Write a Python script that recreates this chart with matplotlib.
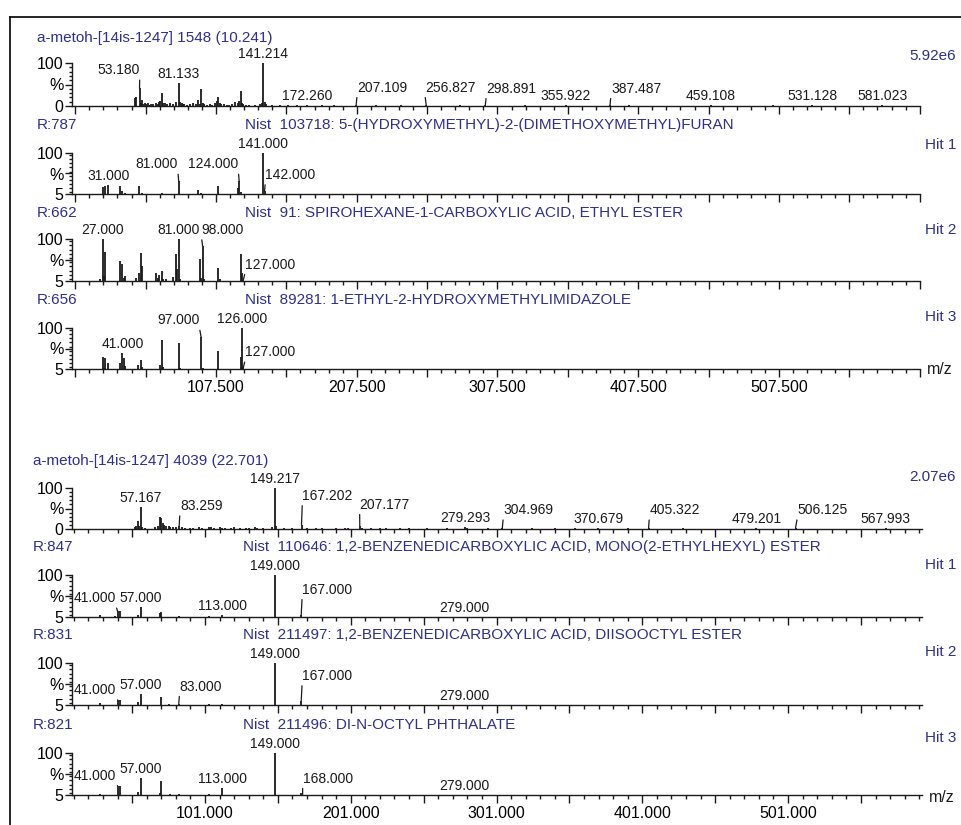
import matplotlib
matplotlib.use('Agg')
import matplotlib.pyplot as plt
from matplotlib.lines import Line2D
from matplotlib.ticker import FixedLocator, MultipleLocator

plt.rcParams['font.family'] = ['Liberation Sans', 'DejaVu Sans']

# ---- scan 1548 (10.241 min) and its library hits ----
scan1_title = 'a-metoh-[14is-1247] 1548 (10.241)'
scan1_tic = '5.92e6'
scan1_mz = [50, 51, 53.180, 54, 55, 56, 57, 58, 59, 60, 61, 63, 65, 66, 67, 68, 69, 70,
            71, 73, 75, 77, 79, 81.133, 82, 83, 84, 85, 87, 89, 91, 93, 95, 96, 97, 98,
            99, 101, 103, 105, 107, 108, 109, 110, 111, 113, 115, 117, 119, 121, 123,
            124, 125, 126, 127, 129, 131, 135, 139, 140, 141.214, 142, 143, 147, 153,
            159, 165, 172.260, 183, 191, 207.109, 221, 239, 256.827, 281, 298.891, 327,
            355.922, 387.487, 401, 429, 459.108, 503, 531.128, 581.023]
scan1_int = [18, 22, 41, 8, 14, 5, 8, 4, 6, 3, 5, 4, 6, 4, 9, 12, 30, 6,
             8, 5, 7, 4, 9, 53, 10, 6, 4, 5, 3, 4, 6, 4, 15, 5, 40, 8,
             4, 3, 4, 3, 6, 12, 22, 8, 5, 4, 3, 3, 5, 10, 8,
             12, 34, 6, 4, 3, 2, 3, 4, 8, 100, 9, 4, 2, 2,
             2, 2, 3, 2, 1.5, 3, 1.5, 1.5, 3, 1.5, 3, 1.5,
             2, 3, 1.5, 1, 2, 1.5, 2, 2]
scan1_labels = [53.180, 81.133, 141.214, 172.260, 207.109, 256.827, 298.891,
                355.922, 387.487, 459.108, 531.128, 581.023]

hit1a_head = ('R:787', 'Nist  103718: 5-(HYDROXYMETHYL)-2-(DIMETHOXYMETHYL)FURAN', 'Hit 1')
hit1a_mz = [27, 29, 31, 39, 41, 43, 53, 55, 69, 81, 95, 97, 109, 123, 124, 125, 141, 142]
hit1a_int = [22, 23, 25, 23, 12, 8, 23, 8, 7, 34, 15, 8, 23, 19, 34, 9, 100, 12]
hit1a_labels = [31, 81, 124, 141, 142]

hit2a_head = ('R:662', 'Nist  91: SPIROHEXANE-1-CARBOXYLIC ACID, ETHYL ESTER', 'Hit 2')
hit2a_mz = [25, 27, 28, 29, 39, 41, 42, 43, 51, 53, 54, 55, 65, 66, 67, 69, 70, 72,
            77, 79, 80, 81, 82, 96, 97, 98, 99, 109, 110, 125, 126, 127]
hit2a_int = [10, 100, 16, 70, 50, 44, 12, 16, 12, 22, 68, 38, 22, 12, 18, 27, 10, 9,
             14, 66, 33, 99, 10, 55, 12, 84, 10, 34, 10, 65, 24, 8]
hit2a_labels = [27, 81, 98, 127]

hit3a_head = ('R:656', 'Nist  89281: 1-ETHYL-2-HYDROXYMETHYLIMIDAZOLE', 'Hit 3')
hit3a_mz = [27, 28, 29, 31, 39, 41, 42, 43, 52, 54, 55, 68, 69, 70, 81, 82, 97, 98,
            109, 110, 125, 126, 127]
hit3a_int = [32, 8, 30, 18, 20, 42, 30, 12, 14, 25, 10, 15, 72, 10, 65, 8, 78, 8,
             46, 6, 32, 100, 9]
hit3a_labels = [41, 97, 126, 127]

# ---- scan 4039 (22.701 min) and its library hits ----
scan2_title = 'a-metoh-[14is-1247] 4039 (22.701)'
scan2_tic = '2.07e6'
scan2_mz = [53, 54, 55, 56, 57.167, 58, 60, 67, 69, 70, 71, 72, 73, 74, 76, 77, 79, 81,
            83.259, 85, 87, 91, 93, 97, 99, 104, 105, 107, 111, 113, 115, 119, 121, 125,
            129, 131, 135, 137, 141, 147, 149.217, 150, 155, 161, 167.202, 171, 177, 181,
            191, 197, 199, 207.177, 209, 215, 221, 225, 235, 241, 253, 267, 279.293, 281,
            295, 304.969, 325, 341, 355, 370.679, 391, 405.322, 429, 479.201, 506.125,
            567.993]
scan2_int = [6, 8, 20, 8, 54, 5, 3, 6, 8, 30, 28, 15, 10, 8, 7, 6, 4, 4,
             7, 4, 3, 3, 3, 4, 3, 5, 4, 3, 4, 3, 3, 3, 4, 3,
             3, 3, 4, 3, 3, 5, 100, 8, 3, 2, 10, 2, 3, 2,
             3, 3, 2, 8, 3, 2, 3, 2, 2, 2, 2, 1.5, 4, 2,
             1.5, 2, 1.5, 1.5, 1.5, 2, 1.5, 2, 1.5, 2, 2,
             2]
scan2_labels = [57.167, 83.259, 149.217, 167.202, 207.177, 279.293, 304.969,
                370.679, 405.322, 479.201, 506.125, 567.993]

hit1b_head = ('R:847', 'Nist  110646: 1,2-BENZENEDICARBOXYLIC ACID, MONO(2-ETHYLHEXYL) ESTER', 'Hit 1')
hit1b_mz = [29, 39, 41, 43, 55, 57, 70, 71, 83, 104, 113, 149, 167, 279]
hit1b_int = [9, 7, 18, 18, 9, 27, 15, 16, 7, 7, 9, 100, 10, 6]
hit1b_labels = [41, 57, 113, 149, 167, 279]

hit2b_head = ('R:831', 'Nist  211497: 1,2-BENZENEDICARBOXYLIC ACID, DIISOOCTYL ESTER', 'Hit 2')
hit2b_mz = [29, 41, 43, 55, 57, 71, 76, 83, 104, 113, 149, 167, 279]
hit2b_int = [10, 16, 16, 12, 30, 24, 7, 8, 7, 7, 100, 14, 6]
hit2b_labels = [41, 57, 83, 149, 167, 279]

hit3b_head = ('R:821', 'Nist  211496: DI-N-OCTYL PHTHALATE', 'Hit 3')
hit3b_mz = [29, 41, 43, 55, 57, 70, 71, 77, 83, 104, 113, 149, 167, 168, 279]
hit3b_int = [8, 26, 26, 12, 44, 10, 36, 7, 8, 7, 20, 100, 10, 6, 6]
hit3b_labels = [41, 57, 113, 149, 168, 279]

W, H = 961, 825
NAVY = '#2f2f8c'
INK = '#1a1a1a'
HEAD_FS = 11

fig = plt.figure(figsize=(W / 100, H / 100), dpi=100)


def fx(x):
    return x / W


def fy(y):
    return 1 - y / H


def add_panel(x0, x1, ytop, ybot):
    return fig.add_axes([fx(x0), fy(ybot), fx(x1 - x0), (ybot - ytop) / H])


def spectrum(ax, mz, inten, labels, shifts, xlim, xmajor0, hit, bottom_axis):
    ymin = 5 if hit else 0
    ax.set_xlim(*xlim)
    ax.set_ylim(ymin, 100)
    ax.vlines(mz, ymin, inten, color=INK, lw=1.3)
    for spine in ('top', 'right'):
        ax.spines[spine].set_visible(False)
    for spine in ('left', 'bottom'):
        ax.spines[spine].set_color(INK)
        ax.spines[spine].set_linewidth(1.0)
    ax.patch.set_alpha(0)

    # m/z ticks: majors every 50, minors every 10, text every 100
    majors = [xmajor0 + 50 * k for k in range(13) if xmajor0 + 50 * k < xlim[1]]
    ax.xaxis.set_major_locator(FixedLocator(majors))
    ax.xaxis.set_minor_locator(FixedLocator(
        [xmajor0 + 10 * k for k in range(61) if xmajor0 + 10 * k < xlim[1]]))
    if bottom_axis:
        ax.set_xticklabels(['%.3f' % v if (v - xmajor0) % 100 == 0
                            and xmajor0 < v < xlim[1] - 40 else ''
                            for v in majors])
    else:
        ax.set_xticklabels([])
    ax.tick_params(axis='x', which='major', length=6, width=1.0, color=INK,
                   labelsize=11.5, pad=2)
    ax.tick_params(axis='x', which='minor', length=3, width=1.0, color=INK)

    mid = (ymin + 100) / 2
    ax.yaxis.set_major_locator(FixedLocator([ymin, mid, 100]))
    ax.set_yticklabels([str(ymin), '%', '100'])
    ax.yaxis.set_minor_locator(MultipleLocator((100 - ymin) / 10))
    ax.tick_params(axis='y', which='major', length=5, width=1.0, color=INK,
                   labelsize=11.5, pad=1)
    ax.tick_params(axis='y', which='minor', length=2.5, width=1.0, color=INK)

    for m in labels:
        i = mz.index(m)
        dx, dy = shifts.get(m, (0, 2))
        kw = {}
        if dx:
            kw['arrowprops'] = dict(arrowstyle='-', lw=0.9, color=INK, shrinkA=0,
                                    shrinkB=0, relpos=(0 if dx > 0 else 1, 0))
        ax.annotate('%.3f' % m, xy=(m, inten[i]), xytext=(dx, dy),
                    textcoords='offset pixels', ha='center', va='bottom',
                    fontsize=10, color=INK, annotation_clip=False, **kw)


# leader-line offsets (pixels) for labels pushed aside from their peaks
shifts_scan1 = {53.180: (-21, 11), 207.109: (26, 10), 256.827: (24, 10),
                298.891: (26, 9), 387.487: (26, 9)}
shifts_hit1a = {81: (-22, 10), 124: (-26, 10), 142: (26, 9)}
shifts_hit2a = {98: (20, 9), 127: (27, 8)}
shifts_hit3a = {97: (-23, 10), 127: (27, 8)}
shifts_scan2 = {83.259: (22, 13), 167.202: (26, 22), 207.177: (25, 14),
                304.969: (26, 11), 405.322: (26, 11), 506.125: (27, 11)}
shifts_hit1b = {41: (-23, 6), 167: (26, 18)}
shifts_hit2b = {41: (-23, 3), 83: (22, 10), 167: (26, 18)}
shifts_hit3b = {41: (-23, 3), 168: (25, 9)}

top_xlim = (5.2, 607.7)
bot_xlim = (9.75, 592.9)

groups = [
    dict(x0=72, x1=920, xlim=top_xlim, major0=7.5, title=scan1_title, tic=scan1_tic,
         tx=37, nx=245, title_y=38, tic_y=56, mz_y=370,
         rows=[(63, 106, None, scan1_mz, scan1_int, scan1_labels, shifts_scan1),
               (153, 194, (hit1a_head, 125, 145), hit1a_mz, hit1a_int, hit1a_labels, shifts_hit1a),
               (239, 281, (hit2a_head, 213, 230), hit2a_mz, hit2a_int, hit2a_labels, shifts_hit2a),
               (328, 369, (hit3a_head, 300, 317), hit3a_mz, hit3a_int, hit3a_labels, shifts_hit3a)]),
    dict(x0=72, x1=922, xlim=bot_xlim, major0=1, title=scan2_title, tic=scan2_tic,
         tx=33, nx=243, title_y=461, tic_y=477, mz_y=797,
         rows=[(488, 529, None, scan2_mz, scan2_int, scan2_labels, shifts_scan2),
               (575, 617, (hit1b_head, 547, 565), hit1b_mz, hit1b_int, hit1b_labels, shifts_hit1b),
               (663, 705, (hit2b_head, 635, 652), hit2b_mz, hit2b_int, hit2b_labels, shifts_hit2b),
               (753, 795, (hit3b_head, 725, 738), hit3b_mz, hit3b_int, hit3b_labels, shifts_hit3b)]),
]

for g in groups:
    fig.text(fx(g['tx']), fy(g['title_y']), g['title'], color=NAVY, fontsize=HEAD_FS,
             va='center', ha='left')
    fig.text(fx(956), fy(g['tic_y']), g['tic'], color=NAVY, fontsize=HEAD_FS,
             va='center', ha='right')
    n = len(g['rows'])
    for k, (ytop, ybot, head, mz, inten, labels, shifts) in enumerate(g['rows']):
        ax = add_panel(g['x0'], g['x1'], ytop, ybot)
        spectrum(ax, mz, inten, labels, shifts, g['xlim'], g['major0'],
                 hit=head is not None, bottom_axis=(k == n - 1))
        if head:
            (rtag, name, hit), ry, hy = head
            fig.text(fx(g['tx']), fy(ry), rtag, color=NAVY, fontsize=HEAD_FS,
                     va='center', ha='left')
            fig.text(fx(g['nx']), fy(ry), name, color=NAVY, fontsize=HEAD_FS,
                     va='center', ha='left')
            fig.text(fx(956), fy(hy), hit, color=NAVY, fontsize=HEAD_FS,
                     va='center', ha='right')
    fig.text(fx(g['x1'] + 7), fy(g['mz_y']), 'm/z', color=INK, fontsize=11.5,
             va='center', ha='left')

# page border (left and top edges)
fig.add_artist(Line2D([fx(10), fx(10)], [fy(17), 0], transform=fig.transFigure,
                      color='black', lw=1.2))
fig.add_artist(Line2D([fx(10), 1], [fy(17), fy(17)], transform=fig.transFigure,
                      color='black', lw=1.2))

fig.savefig('out.png', dpi=100)
